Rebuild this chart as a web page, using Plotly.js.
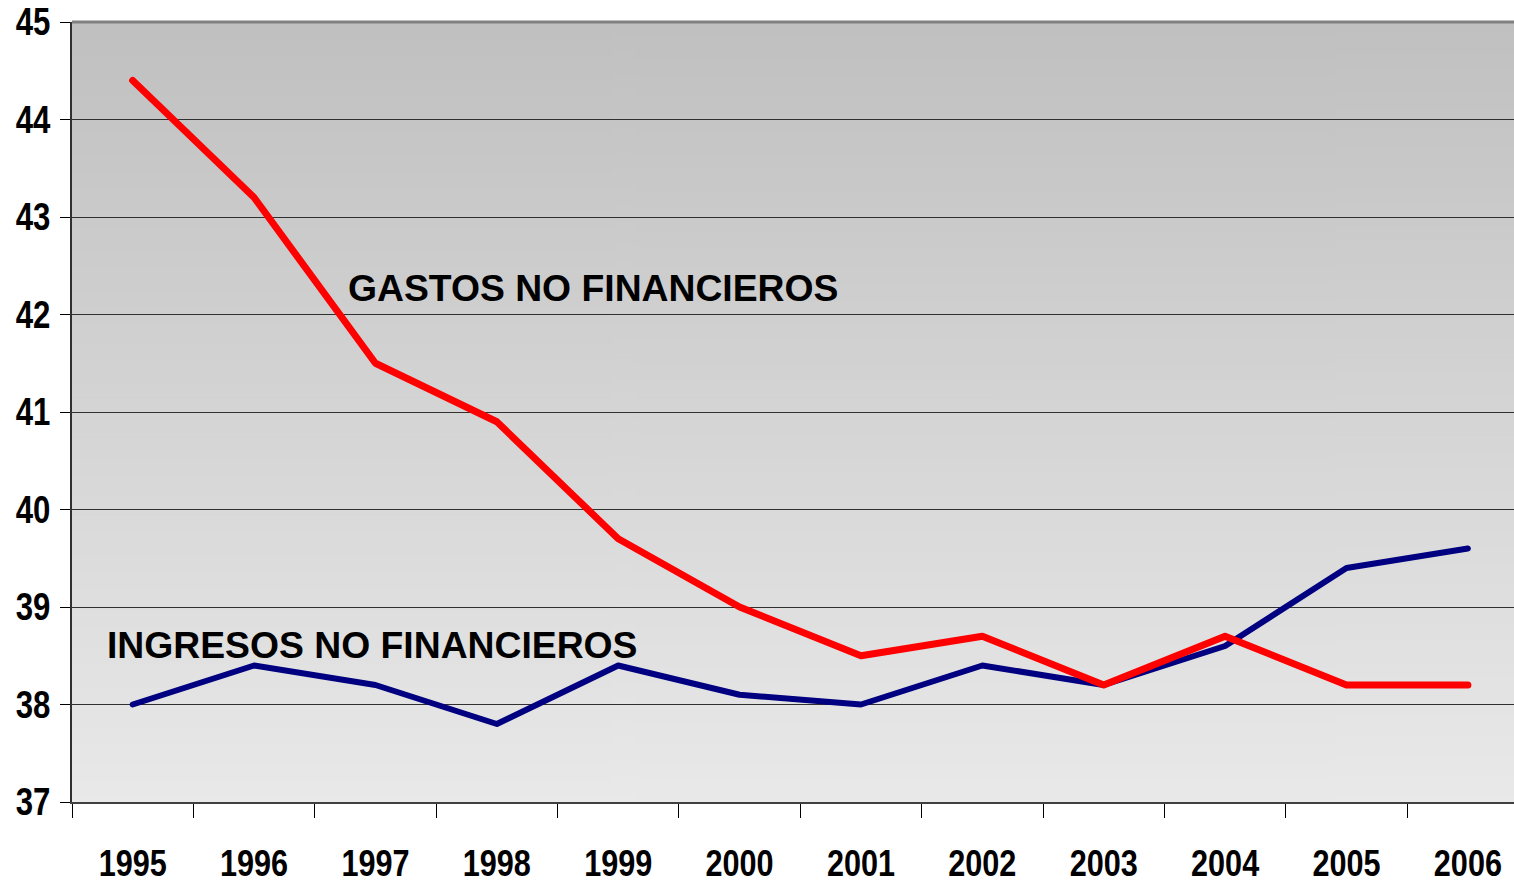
<!DOCTYPE html>
<html>
<head>
<meta charset="utf-8">
<script src="https://cdn.plot.ly/plotly-3.0.1.min.js"></script>
<style>
  html, body { margin: 0; padding: 0; background: #fff; }
  #chart { width: 1514px; height: 886px; }
  #chart .scatterlayer path.js-line { stroke-linecap: round; stroke-linejoin: round; }
</style>
</head>
<body>
<div id="chart"></div>
<script>
// data
const years = ['1995', '1996', '1997', '1998', '1999', '2000', '2001', '2002', '2003', '2004', '2005', '2006'];
const gastos = [44.4, 43.2, 41.5, 40.9, 39.7, 39.0, 38.5, 38.7, 38.2, 38.7, 38.2, 38.2];
const ingresos = [38.0, 38.4, 38.2, 37.8, 38.4, 38.1, 38.0, 38.4, 38.2, 38.6, 39.4, 39.6];
const yTicks = [37, 38, 39, 40, 41, 42, 43, 44, 45];

// grey gradient for the plot area (darker at the top)
function gradientImage() {
    const c = document.createElement('canvas');
    c.width = 4;
    c.height = 400;
    const ctx = c.getContext('2d');
    const g = ctx.createLinearGradient(0, 0, 0, 400);
    g.addColorStop(0, '#c0c0c0');
    g.addColorStop(1, '#e9e9e9');
    ctx.fillStyle = g;
    ctx.fillRect(0, 0, 4, 400);
    return c.toDataURL('image/png');
}

const data = [
    {
        x: years,
        y: ingresos,
        type: 'scatter',
        mode: 'lines',
        name: 'INGRESOS NO FINANCIEROS',
        line: { color: '#000080', width: 6 },
        hoverinfo: 'x+y'
    },
    {
        x: years,
        y: gastos,
        type: 'scatter',
        mode: 'lines',
        name: 'GASTOS NO FINANCIEROS',
        line: { color: '#ff0000', width: 7 },
        hoverinfo: 'x+y'
    }
];

// no narrow font installed, so the tick labels get squeezed after drawing
const yTickFont = {
    family: '"Liberation Sans", Arial, sans-serif',
    size: 38,
    color: '#000',
    weight: 'bold'
};

const xTickFont = {
    family: '"Liberation Sans", Arial, sans-serif',
    size: 36,
    color: '#000',
    weight: 'bold'
};

const labelFont = {
    family: '"Liberation Sans", Arial, sans-serif',
    size: 37.3,
    color: '#000',
    weight: 'bold'
};

const layout = {
    width: 1514,
    height: 886,
    showlegend: false,
    paper_bgcolor: '#ffffff',
    plot_bgcolor: 'rgba(0,0,0,0)',
    margin: { l: 72, r: 0, t: 22, b: 84 },
    xaxis: {
        type: 'category',
        range: [-0.5, 11.38],
        tickson: 'boundaries',
        ticks: 'outside',
        ticklen: 14,
        tickwidth: 1,
        tickcolor: '#000',
        ticklabelstandoff: 29,
        showgrid: false,
        showline: true,
        linecolor: '#404040',
        linewidth: 2,
        tickfont: xTickFont,
        zeroline: false
    },
    yaxis: {
        range: [37, 45],
        tickvals: yTicks,
        ticks: 'outside',
        ticklen: 10,
        tickwidth: 1,
        tickcolor: '#000',
        ticklabelstandoff: 2,
        showgrid: true,
        gridcolor: '#303030',
        gridwidth: 1,
        showline: true,
        linecolor: '#303030',
        linewidth: 2,
        tickfont: yTickFont,
        zeroline: false
    },
    images: [{
        source: gradientImage(),
        xref: 'paper', yref: 'paper',
        x: 0, y: 1,
        sizex: 1, sizey: 1,
        xanchor: 'left', yanchor: 'top',
        sizing: 'stretch',
        layer: 'below'
    }],
    shapes: [{
        type: 'line',
        xref: 'paper', yref: 'paper',
        x0: 0, x1: 1, y0: 1, y1: 1,
        line: { color: '#808080', width: 3 }
    }],
    annotations: [
        {
            text: 'GASTOS NO FINANCIEROS',
            xref: 'paper', yref: 'paper',
            x: 0.1914, y: 0.659,
            xshift: -2,
            xanchor: 'left', yanchor: 'middle',
            showarrow: false,
            font: labelFont
        },
        {
            text: 'INGRESOS NO FINANCIEROS',
            xref: 'paper', yref: 'paper',
            x: 0.0243, y: 0.2013,
            xshift: -2,
            xanchor: 'left', yanchor: 'middle',
            showarrow: false,
            font: labelFont
        }
    ]
};

Plotly.newPlot('chart', data, layout, { displayModeBar: false, staticPlot: true }).then(function(gd) {
    gd.querySelectorAll('.xtick text').forEach(function(t) {
        const w = t.getComputedTextLength();
        t.setAttribute('textLength', (w * 0.85).toFixed(1));
        t.setAttribute('lengthAdjust', 'spacingAndGlyphs');
    });
    gd.querySelectorAll('.ytick text').forEach(function(t) {
        const w = t.getComputedTextLength();
        t.setAttribute('textLength', (w * 0.82).toFixed(1));
        t.setAttribute('lengthAdjust', 'spacingAndGlyphs');
    });
});
</script>
</body>
</html>
